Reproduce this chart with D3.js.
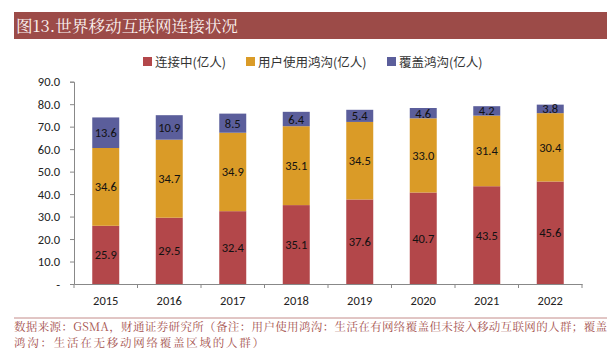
<!DOCTYPE html>
<html><head><meta charset="utf-8">
<script src="https://cdn.jsdelivr.net/npm/d3@7"></script>
<style>body{margin:0;background:#fff}svg{display:block}</style>
</head><body>
<script>
const years = ["2015","2016","2017","2018","2019","2020","2021","2022"];
const connected = [25.9, 29.5, 32.4, 35.1, 37.6, 40.7, 43.5, 45.6];
const usageGap = [34.6, 34.7, 34.9, 35.1, 34.5, 33.0, 31.4, 30.4];
const coverageGap = [13.6, 10.9, 8.5, 6.4, 5.4, 4.6, 4.2, 3.8];
const seriesNames = ["连接中(亿人)", "用户使用鸿沟(亿人)", "覆盖鸿沟(亿人)"];
const yTicks = [0, 10, 20, 30, 40, 50, 60, 70, 80, 90];
const titleText = "图13.世界移动互联网连接状况";
const sourceLines = ["数据来源：GSMA，财通证券研究所（备注：用户使用鸿沟：生活在有网络覆盖但未接入移动互联网的人群；覆盖", "鸿沟：生活在无移动网络覆盖区域的人群）"];

const colors = ["#B3474A", "#DA9B27", "#5B5E9B"];
const W = 611, H = 355;
const svg = d3.select("body").append("svg").attr("width", W).attr("height", H);

// title banner
svg.append("rect").attr("x", 14).attr("y", 12).attr("width", 593).attr("height", 27).attr("fill", "#9C4B48");
svg.append("text").attr("x", 16).attr("y", 31.5).text(titleText)
  .attr("fill", "#fbf3f1").attr("font-family", "'Noto Serif CJK SC','Noto Sans CJK SC',serif")
  .attr("font-size", 16).attr("textLength", 222).attr("lengthAdjust", "spacingAndGlyphs");

const x = d3.scaleBand().domain(years).range([74, 582]).paddingInner(0.575).paddingOuter(0.2875);
const y = d3.scaleLinear().domain([0, 90]).range([284, 81.7]);

const data = years.map((yr, i) => ({year: yr, s0: connected[i], s1: usageGap[i], s2: coverageGap[i]}));
const stack = d3.stack().keys(["s0", "s1", "s2"])(data);

const g = svg.append("g");
stack.forEach((layer, li) => {
  g.selectAll(null).data(layer).enter().append("rect")
    .attr("x", d => x(d.data.year)).attr("width", x.bandwidth())
    .attr("y", d => y(d[1])).attr("height", d => y(d[0]) - y(d[1]))
    .attr("fill", colors[li]);
  g.selectAll(null).data(layer).enter().append("text")
    .attr("x", d => x(d.data.year) + x.bandwidth() / 2)
    .attr("y", d => (y(d[0]) + y(d[1])) / 2 + 4.5)
    .attr("text-anchor", "middle").attr("font-family", "Carlito, Lato, 'Open Sans', sans-serif")
    .attr("font-size", 12.5).attr("fill", "#111")
    .text(d => (d[1] - d[0]).toFixed(1));
});

// y axis
const yAxis = d3.axisLeft(y).tickValues(yTicks).tickSize(4).tickPadding(10)
  .tickFormat(v => v === 0 ? "-" : v.toFixed(1));
const ya = svg.append("g").attr("transform", "translate(74,0)").call(yAxis);
ya.select(".domain").attr("stroke", "#888");
ya.selectAll(".tick line").attr("stroke", "#888");
ya.selectAll(".tick text").attr("font-family", "Carlito, Lato, 'Open Sans', sans-serif").attr("font-size", 12.5).attr("fill", "#222");

// x axis
const xAxis = d3.axisBottom(x).tickSize(0).tickPadding(12);
const xa = svg.append("g").attr("transform", "translate(0,284)").call(xAxis);
xa.select(".domain").attr("stroke", "#888");
xa.selectAll(".tick text").attr("font-family", "Carlito, Lato, 'Open Sans', sans-serif").attr("font-size", 12.5).attr("fill", "#222");
// category separator ticks
const seps = years.map(yr => x(yr) - x.step() * x.paddingInner() / 2).concat([582]);
xa.selectAll(".sep").data(seps).enter().append("line")
  .attr("x1", d => d).attr("x2", d => d).attr("y1", 0).attr("y2", 4).attr("stroke", "#888");

// legend
const legX = [143, 246, 387];
seriesNames.forEach((n, i) => {
  svg.append("rect").attr("x", legX[i]).attr("y", 57).attr("width", 9).attr("height", 9).attr("fill", colors[i]);
  svg.append("text").attr("x", legX[i] + 12).attr("y", 66.5).text(n)
    .attr("font-family", "'Noto Sans CJK SC', sans-serif").attr("font-size", 12.5).attr("fill", "#333");
});

// source
svg.append("line").attr("x1", 14).attr("x2", 607).attr("y1", 318).attr("y2", 318).attr("stroke", "#C48C8A").attr("stroke-width", 1);
svg.append("text").attr("x", 14).attr("y", 331).text(sourceLines[0])
  .attr("font-family", "'Noto Serif CJK SC','Noto Sans CJK SC',serif").attr("font-size", 11.5).attr("fill", "#A4504C")
  .attr("textLength", 593).attr("lengthAdjust", "spacing");
svg.append("text").attr("x", 14).attr("y", 347).text(sourceLines[1])
  .attr("font-family", "'Noto Serif CJK SC','Noto Sans CJK SC',serif").attr("font-size", 11.5).attr("fill", "#A4504C")
  .attr("textLength", 250).attr("lengthAdjust", "spacing");
</script>
</body></html>
